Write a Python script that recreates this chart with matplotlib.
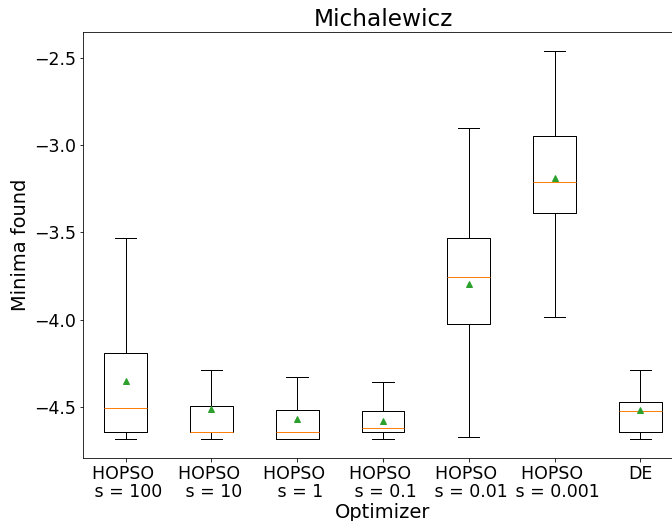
import matplotlib
matplotlib.use("Agg")
import matplotlib.pyplot as plt

labels = ["HOPSO \n s = 100", "HOPSO \n s = 10", "HOPSO \n s = 1", "HOPSO \n s = 0.1",
          "HOPSO \n s = 0.01", "HOPSO \n s = 0.001", "DE"]
whislo = [-4.685, -4.685, -4.685, -4.685, -4.676, -3.985, -4.685]
q1 = [-4.643, -4.643, -4.685, -4.643, -4.025, -3.386, -4.643]
med = [-4.509, -4.643, -4.643, -4.624, -3.758, -3.212, -4.527]
q3 = [-4.194, -4.494, -4.518, -4.525, -3.529, -2.944, -4.471]
whishi = [-3.529, -4.288, -4.331, -4.356, -2.901, -2.456, -4.288]
means = [-4.351, -4.511, -4.569, -4.585, -3.794, -3.189, -4.519]

stats = []
for i in range(len(labels)):
    stats.append(dict(label=labels[i], whislo=whislo[i], q1=q1[i], med=med[i],
                      q3=q3[i], whishi=whishi[i], mean=means[i], fliers=[]))

DPI = 72
fig = plt.figure(figsize=(672 / DPI, 521 / DPI), dpi=DPI)
ax = fig.add_axes([0.1231, 0.1215, 0.8936, 0.8177])
ax.bxp(stats, showmeans=True, meanprops=dict(markersize=6))
ax.set_ylim(-4.793, -2.347)
ax.set_xlim(0.5, 7.5)
ax.set_yticks([-2.5, -3.0, -3.5, -4.0, -4.5])
ax.tick_params(labelsize=17.4)
for t in ax.get_xticklabels():
    t.set_linespacing(1.05)
ax.set_title("Michalewicz", fontsize=23.2)
ax.set_xlabel("Optimizer", fontsize=19.4, labelpad=2)
ax.set_ylabel("Minima found", fontsize=19.4)
fig.savefig("out.png", dpi=DPI)
